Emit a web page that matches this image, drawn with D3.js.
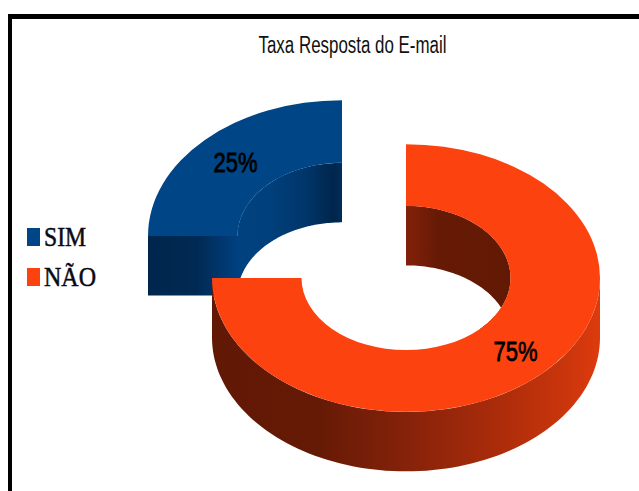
<!DOCTYPE html>
<html>
<head>
<meta charset="utf-8">
<script src="https://cdn.jsdelivr.net/npm/d3@7/dist/d3.min.js"></script>
<style>
html,body{margin:0;padding:0;background:#fff;overflow:hidden}
svg{display:block}
</style>
</head>
<body>
<svg id="chart" width="639" height="491"></svg>
<script>
const chartTitle = "Taxa Resposta do E-mail";
const categories = ["SIM", "NÃO"];
const values = [25, 75];
const faceColors = ["#004586", "#fc430f"];
const valueLabels = ["25%", "75%"];

const svg = d3.select("#chart");
const defs = svg.append("defs");

// Ring geometry: the SIM slice is pulled out up and to the left
const outerR = 194, innerR = 104.5, depth = 59.5;
const centers = [{x: 342, y: 236, tilt: 0.70}, {x: 406, y: 278, tilt: 0.69}];

// Chart frame: heavy rule along the top and left only
svg.append("rect").attr("x", 8).attr("y", 14).attr("width", 631).attr("height", 477).attr("fill", "#000");
svg.append("rect").attr("x", 12).attr("y", 19).attr("width", 627).attr("height", 472).attr("fill", "#fff");

svg.append("text")
  .attr("x", 352.5).attr("y", 53)
  .attr("text-anchor", "middle")
  .attr("font-family", "'Liberation Sans Narrow','Liberation Sans',sans-serif")
  .attr("font-size", 23.5)
  .attr("textLength", 188).attr("lengthAdjust", "spacingAndGlyphs")
  .attr("fill", "#111")
  .text(chartTitle);

function gradient(id, x1, x2, stops) {
  const g = defs.append("linearGradient").attr("id", id)
    .attr("gradientUnits", "userSpaceOnUse")
    .attr("x1", x1).attr("x2", x2).attr("y1", 0).attr("y2", 0);
  stops.forEach(([o, c]) => g.append("stop").attr("offset", o).attr("stop-color", c));
  return `url(#${id})`;
}

const pie = d3.pie().sort(null).startAngle(-Math.PI / 2).endAngle(3 * Math.PI / 2);
const slices = pie(values);

const arc = d3.arc().innerRadius(innerR).outerRadius(outerR);

// Extruded wall along an elliptical edge between two angles
function wallPath(c, radius, a0, a1) {
  const n = 90;
  const angles = d3.range(n + 1).map(i => a0 + (a1 - a0) * i / n);
  return d3.area()
    .x(a => c.x + radius * Math.sin(a))
    .y0(a => c.y - c.tilt * radius * Math.cos(a))
    .y1(a => c.y - c.tilt * radius * Math.cos(a) + depth)(angles);
}

function drawTop(i) {
  svg.append("path")
    .attr("transform", `translate(${centers[i].x},${centers[i].y}) scale(1,${centers[i].tilt})`)
    .attr("d", arc(slices[i]))
    .attr("fill", faceColors[i]);
}

// SIM slice: inner wall, cut face at its start angle, then top
{
  const c = centers[0], s = slices[0];
  const xOut = c.x + outerR * Math.sin(s.startAngle);
  const xIn = c.x + innerR * Math.sin(s.startAngle);
  const cutFill = gradient("simCut", xOut, xIn, [[0, "#00264c"], [0.55, "#002a54"], [1, "#004080"]]);
  const innerFill = gradient("simInner", xIn, c.x, [[0, "#004280"], [0.3, "#00407c"], [0.65, "#00366a"], [0.92, "#00264c"], [1, "#002d58"]]);
  svg.append("path")
    .attr("d", wallPath(c, innerR, s.startAngle, s.endAngle))
    .attr("fill", innerFill);
  svg.append("path")
    .attr("d", d3.area().x(d => d).y0(c.y).y1(c.y + depth)([xOut, xIn + 0.5]))
    .attr("fill", cutFill);
  drawTop(0);
}

// NÃO slice: inner back wall, outer front wall, then top
{
  const c = centers[1], s = slices[1];
  const innerFill = gradient("naoInner", c.x, c.x + innerR, [[0, "#80200a"], [0.08, "#7c1f08"], [0.3, "#661a05"], [1, "#621904"]]);
  const outerFill = gradient("naoOuter", c.x - outerR, c.x + outerR, [[0, "#611804"], [0.27, "#651a05"], [0.5, "#85220a"], [0.72, "#a82b0a"], [0.92, "#cc360c"], [1, "#dd3b0d"]]);
  svg.append("path")
    .attr("d", wallPath(c, innerR, s.startAngle, Math.PI * 0.75))
    .attr("fill", innerFill);
  svg.append("path")
    .attr("d", wallPath(c, outerR, Math.PI / 2, s.endAngle))
    .attr("fill", outerFill);
  drawTop(1);
}

// Value labels sit on the mid radius of each slice
slices.forEach((s, i) => {
  const [px, py] = arc.centroid(s);
  svg.append("text")
    .attr("x", centers[i].x + px + (i === 0 ? -1 : 4))
    .attr("y", centers[i].y + py * centers[i].tilt + 10)
    .attr("text-anchor", "middle")
    .attr("font-family", "'Liberation Sans Narrow','Liberation Sans',sans-serif")
    .attr("font-size", 28.5)
    .attr("textLength", 44).attr("lengthAdjust", "spacingAndGlyphs")
    .attr("fill", "#000").attr("stroke", "#000").attr("stroke-width", 0.8)
    .text(valueLabels[i]);
});

// Legend
const legendY = d3.scalePoint().domain(categories).range([237, 277]);
categories.forEach((name, i) => {
  svg.append("rect")
    .attr("x", 27).attr("y", legendY(name) - 9)
    .attr("width", 13).attr("height", 18)
    .attr("fill", faceColors[i]);
  svg.append("text")
    .attr("x", 44).attr("y", legendY(name) + 9)
    .attr("font-family", "'Liberation Serif',serif")
    .attr("font-size", 27)
    .attr("textLength", i === 0 ? 42 : 52).attr("lengthAdjust", "spacingAndGlyphs")
    .attr("fill", "#0a0a14").attr("stroke", "#0a0a14").attr("stroke-width", 0.5)
    .text(name);
});
</script>
</body>
</html>
